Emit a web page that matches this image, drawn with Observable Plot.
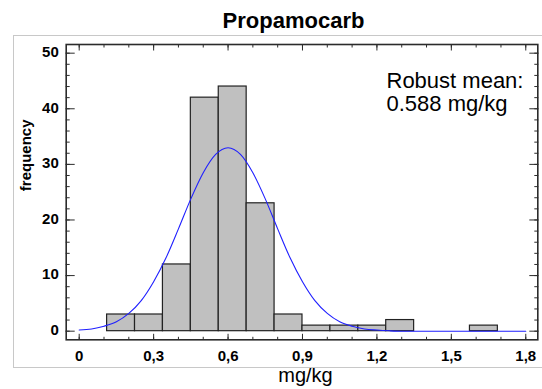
<!DOCTYPE html>
<html><head><meta charset="utf-8">
<script src="https://cdn.jsdelivr.net/npm/d3@7"></script>
<script src="https://cdn.jsdelivr.net/npm/@observablehq/plot@0.6"></script>
<style>
html,body{margin:0;padding:0;background:#fff;}
#wrap{position:relative;width:542px;height:389px;overflow:hidden;font-family:"Liberation Sans",Arial,sans-serif;}
#wrap svg{position:absolute;left:0;top:0;}
#border{position:absolute;left:13px;top:35px;width:560px;height:333px;border:1px solid #c8c8c8;box-sizing:border-box;pointer-events:none;}
</style></head><body><div id="wrap"></div>
<script>
// Histogram bins (mg/kg) and frequencies
const binLo  = [0.1125, 0.225, 0.3375, 0.45, 0.5625, 0.675, 0.7875, 0.9, 1.0125, 1.125, 1.2375, 1.575];
const binHi  = [0.225, 0.3375, 0.45, 0.5625, 0.675, 0.7875, 0.9, 1.0125, 1.125, 1.2375, 1.35, 1.6875];
const counts = [3, 3, 12, 42, 44, 23, 3, 1, 1, 1, 2, 1];

// Fitted curve
const curveX = [0, 0.05, 0.1, 0.15, 0.2, 0.25, 0.3, 0.35, 0.4, 0.45, 0.5, 0.55, 0.6, 0.65, 0.7, 0.75, 0.8, 0.85, 0.9, 0.95, 1.0, 1.05, 1.1, 1.15, 1.2, 1.25, 1.3, 1.8];
const curveY = [0.2, 0.4, 0.9, 1.7, 3.2, 5.5, 8.9, 13.2, 18.4, 23.8, 28.5, 31.8, 33, 31.8, 28.5, 23.8, 18.4, 13.2, 8.9, 5.5, 3.2, 1.7, 0.9, 0.4, 0.2, 0.07, 0, 0];

// Ticks
const xMajor = [0, 0.3, 0.6, 0.9, 1.2, 1.5, 1.8];
const xTickLabels = ["0", "0,3", "0,6", "0,9", "1,2", "1,5", "1,8"];
const yMajor = [0, 10, 20, 30, 40, 50];
const yTickLabels = ["0", "10", "20", "30", "40", "50"];

const title = "Propamocarb";
const xLabel = "mg/kg";
const yLabel = "frequency";
const note = "Robust mean:\n0.588 mg/kg";

const xMinor = d3.range(0, 1.801, 0.1);
const yMinor = d3.range(0, 51, 2);

const font = "Liberation Sans, Arial, sans-serif";
const tickColor = "#2b2b2b";
const blank = () => "";

const chart = Plot.plot({
  width: 542, height: 389,
  marginLeft: 65.7, marginRight: 4.7, marginTop: 44, marginBottom: 49.7,
  style: {fontFamily: font, background: "transparent", color: "#000"},
  x: {type: "linear", domain: [-0.0524, 1.8485]},
  y: {type: "linear", domain: [-1.55, 51.56]},
  marks: [
    Plot.rect(counts, {x1: (d, i) => binLo[i], x2: (d, i) => binHi[i], y1: 0, y2: d => d,
      fill: "#c0c0c0", stroke: "#222", strokeWidth: 1.2}),
    Plot.line(curveX.map((x, i) => ({x, y: curveY[i]})), {x: "x", y: "y", stroke: "#1f1fff", strokeWidth: 1.1, curve: "monotone-x"}),
    Plot.frame({stroke: tickColor, strokeWidth: 1.6}),
    // inward ticks, all four sides
    Plot.axisX(xMinor, {anchor: "bottom", tickSize: -2.5, tickFormat: blank, stroke: tickColor, label: null}),
    Plot.axisX(xMajor, {anchor: "bottom", tickSize: -5.5, tickFormat: blank, stroke: tickColor, label: null}),
    Plot.axisX(xMinor, {anchor: "top", tickSize: -2.5, tickFormat: blank, stroke: tickColor, label: null}),
    Plot.axisX(xMajor, {anchor: "top", tickSize: -5.5, tickFormat: blank, stroke: tickColor, label: null}),
    Plot.axisY(yMinor, {anchor: "left", tickSize: -4, tickFormat: blank, stroke: tickColor, label: null}),
    Plot.axisY(yMajor, {anchor: "left", tickSize: -9, tickFormat: blank, stroke: tickColor, label: null}),
    Plot.axisY(yMinor, {anchor: "right", tickSize: -4, tickFormat: blank, stroke: tickColor, label: null}),
    Plot.axisY(yMajor, {anchor: "right", tickSize: -9, tickFormat: blank, stroke: tickColor, label: null}),
    // tick labels
    Plot.axisX(xMajor, {anchor: "bottom", tickSize: 0, tickPadding: 10.7, lineAnchor: "top",
      tickFormat: v => xTickLabels[xMajor.indexOf(v)], fontSize: 15, fontWeight: "bold", fill: "#000", label: null}),
    Plot.axisY(yMajor, {anchor: "left", tickSize: 0, tickPadding: 7.4, dy: -1,
      tickFormat: v => yTickLabels[yMajor.indexOf(v)], fontSize: 15, fontWeight: "bold", fill: "#000", label: null}),
    // titles
    Plot.text([title], {frameAnchor: "top", lineAnchor: "top", dx: -8.5, dy: -31.9,
      fontSize: 22, fontWeight: "bold", fontFamily: font, fill: "#000"}),
    Plot.text([xLabel], {frameAnchor: "bottom", lineAnchor: "top", dx: 3.5, dy: 28,
      fontSize: 20, fontFamily: font, fill: "#000"}),
    Plot.text([yLabel], {frameAnchor: "left", lineAnchor: "top", rotate: -90, dx: -46.3, dy: -1,
      fontSize: 15, fontWeight: "bold", fontFamily: font, fill: "#000"}),
    Plot.text([note], {frameAnchor: "top-left", textAnchor: "start", lineAnchor: "top", dx: 320.3, dy: 27.1,
      lineHeight: 1.06, fontSize: 22, fontFamily: font, fill: "#000"})
  ]
});
const wrap = document.getElementById("wrap");
wrap.appendChild(chart);
const border = document.createElement("div");
border.id = "border";
wrap.appendChild(border);
</script>
</body></html>
